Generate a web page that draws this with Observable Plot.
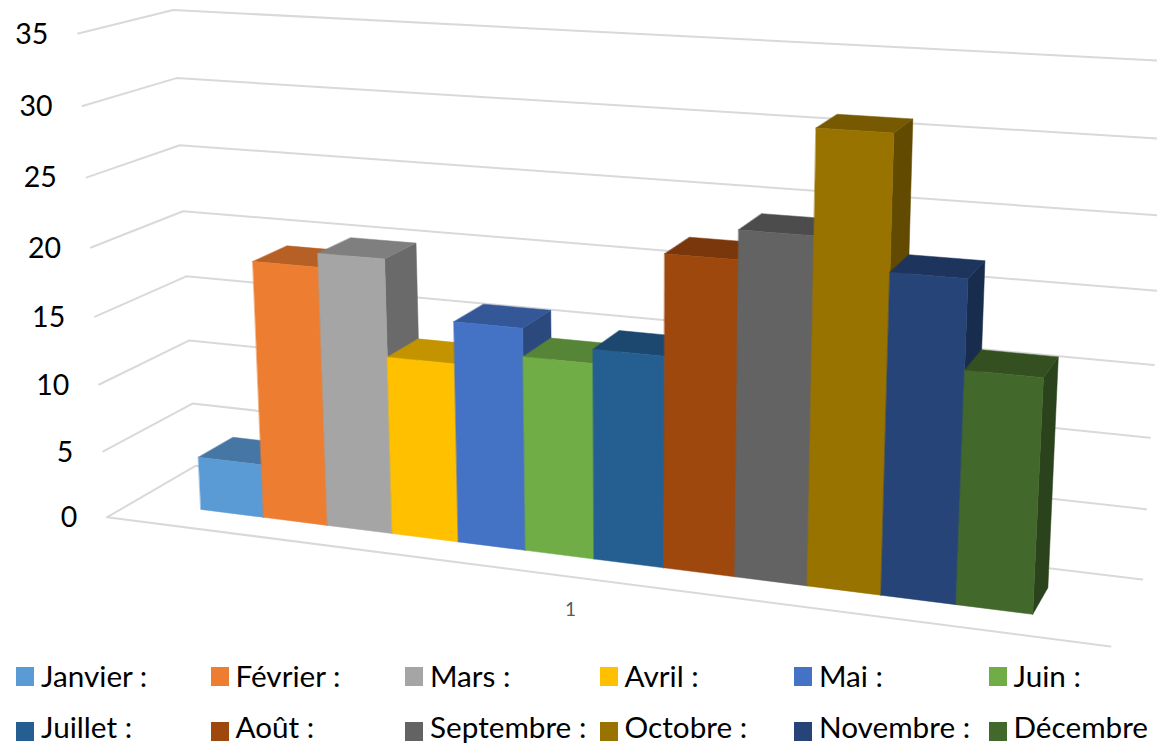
<!DOCTYPE html>
<html lang="fr">
<head>
<meta charset="utf-8">
<script src="https://cdn.jsdelivr.net/npm/d3@7"></script>
<script src="https://cdn.jsdelivr.net/npm/@observablehq/plot@0.6"></script>
<style>
  html, body { margin: 0; padding: 0; background: #fff; overflow: hidden; }
  #chart svg { display: block; background: #fff; }
  #legend { position: relative; height: 95px; font: 29.7px Lato, sans-serif; color: #000; }
  .item { position: absolute; white-space: nowrap; line-height: 28px; }
  .swatch { position: absolute; width: 18px; height: 19px; }
</style>
</head>
<body>
<div id="chart"></div>
<div id="legend"></div>
<script>
const months = ["Janvier :", "Février :", "Mars :", "Avril :", "Mai :", "Juin :", "Juillet :", "Août :", "Septembre :", "Octobre :", "Novembre :", "Décembre"];
const values = [4, 19, 20, 13, 16, 14, 15, 22, 24, 31, 22, 16];
const colors = ["#5B9BD5", "#ED7D31", "#A5A5A5", "#FFC000", "#4472C4", "#70AD47", "#255E91", "#9E480E", "#636363", "#997300", "#264478", "#43682B"];
const gridLevels = [0, 5, 10, 15, 20, 25, 30, 35];
const categoryLabels = ["1"];

const vMax = 35;
// Bars occupy this part of the floor (fractions of floor width and depth).
const barStart = 0.0757, barEnd = 0.921, depthFront = 0.30, depthBack = 0.705;
const barWidth = (barEnd - barStart) / values.length;

// Perspective camera of the 3-D chart: (u along the front, d into the depth, v up).
function project(u, d, v) {
  const t = v / vMax;
  const w = 1 - 0.12431 * u + 0.06395 * d - 0.055 * t;
  const x = (865.31 * u + 100.77 * d - 33.27 * t + 106.7) / w - (3 + 2 * d) * u * t;
  const y = (48.99 * u - 21.64 * d - 485.5 * t + 516.7) / w - (4 + 1.5 * d) * u * t;
  return [x, y];
}
const vertex = (id, fill, u, d, v) => {
  const [x, y] = project(u, d, v);
  return {id, fill, x, y};
};

// Gridlines: side wall, then back wall, at each level; plus front floor edge.
const gridPoints = gridLevels.flatMap((level) => [
  {level, p: project(0, 0, level)},
  {level, p: project(0, 1, level)},
  {level, p: project(1, 1, level)}
]).concat([
  {level: "floor", p: project(0, 0, 0)},
  {level: "floor", p: project(1, 0, 0)}
]);

// One polygon per visible face, painted left to right.
const facePoints = values.flatMap((value, i) => {
  const u0 = barStart + i * barWidth, u1 = u0 + barWidth;
  const d0 = depthFront, d1 = depthBack;
  const base = d3.rgb(colors[i]);
  const shade = (k) => d3.rgb(base.r * k, base.g * k, base.b * k).formatHex();
  const side = shade(0.64), top = shade(0.77), front = base.formatHex();
  return [
    ...[[u1, d0, 0], [u1, d1, 0], [u1, d1, value], [u1, d0, value]].map((c) => vertex(`s${i}`, side, ...c)),
    ...[[u0, d0, value], [u1, d0, value], [u1, d1, value], [u0, d1, value]].map((c) => vertex(`t${i}`, top, ...c)),
    ...[[u0, d0, 0], [u1, d0, 0], [u1, d0, value], [u0, d0, value]].map((c) => vertex(`f${i}`, front, ...c))
  ];
});

const chart = Plot.plot({
  width: 1157,
  height: 650,
  margin: 0,
  x: {domain: [0, 1157], range: [0, 1157], axis: null},
  y: {domain: [0, 650], range: [0, 650], axis: null},
  color: {type: "identity"},
  marks: [
    Plot.line(gridPoints, {x: (d) => d.p[0], y: (d) => d.p[1], z: "level", stroke: "#D9D9D9", strokeWidth: 2}),
    Plot.line(facePoints, {x: "x", y: "y", z: "id", fill: "fill", stroke: "fill", strokeWidth: 0.5, curve: "linear-closed"}),
    Plot.text(gridLevels, {
      x: (t) => project(0, 0, t)[0],
      y: (t) => project(0, 0, t)[1],
      text: String,
      dx: -30,
      dy: 1,
      textAnchor: "end",
      fontSize: 28.5,
      fontFamily: "Lato, sans-serif",
      fill: "#000"
    }),
    Plot.text(categoryLabels, {
      x: () => project(0.5, 0, 0)[0],
      y: () => project(0.5, 0, 0)[1],
      text: String,
      dx: -5,
      dy: 32,
      fontSize: 19,
      fontFamily: "Lato, sans-serif",
      fill: "#595959"
    })
  ]
});
document.getElementById("chart").append(chart);

const legend = document.getElementById("legend");
months.forEach((m, i) => {
  const col = i % 6, row = Math.floor(i / 6);
  const left = 16 + col * 194.5, top = 17 + row * 55;
  const sw = document.createElement("div");
  sw.className = "swatch";
  sw.style.cssText = `left:${left}px;top:${top}px;background:${colors[i]}`;
  const t = document.createElement("div");
  t.className = "item";
  t.textContent = m;
  t.style.cssText = `left:${left + 25}px;top:${12 + row * 51}px`;
  legend.append(sw, t);
});
</script>
</body>
</html>
